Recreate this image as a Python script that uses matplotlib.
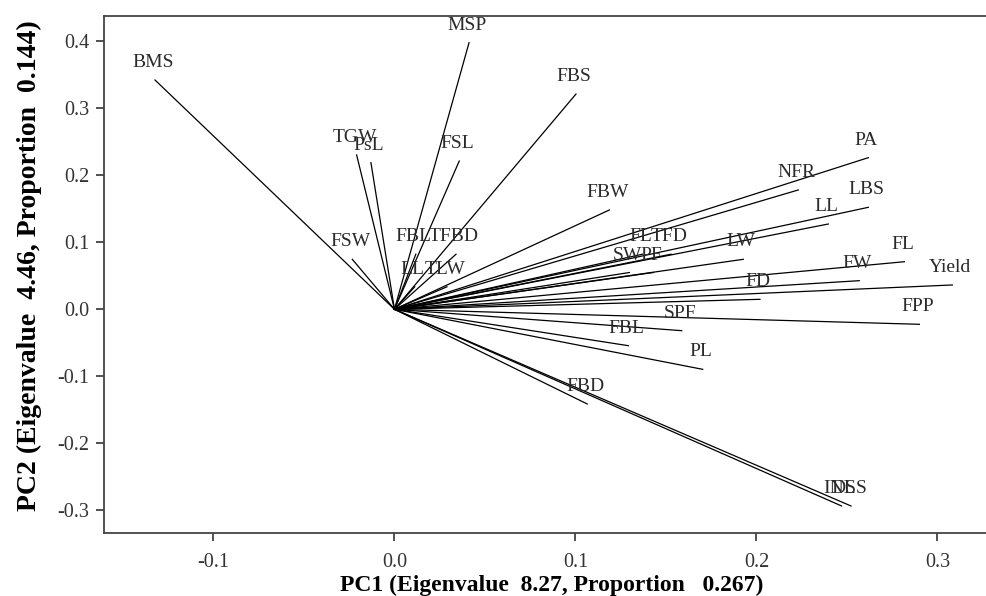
import matplotlib
matplotlib.use("Agg")
import matplotlib.pyplot as plt

# loading plot data (PC1, PC2 loadings)
names = ['BMS', 'MSP', 'FBS', 'TGW', 'PsL', 'FSL', 'FSW',
         'FBL', 'TFBD', 'LL', 'TLW', 'FBW', 'FL', 'TFD', 'SW', 'PF',
         'PA', 'NFR', 'LBS', 'LL', 'LW', 'FL', 'FW', 'Yield', 'FD', 'FPP',
         'SPF', 'FBL', 'PL', 'FBD', 'INL', 'DSS']
pc1 = [-0.1323, 0.0412, 0.1003, -0.0209, -0.0130, 0.0358, -0.0233,
       0.0118, 0.0340, 0.0112, 0.0290, 0.1187, 0.1370, 0.1528, 0.1298, 0.1430,
       0.2618, 0.2231, 0.2618, 0.2397, 0.1927, 0.2817, 0.2568, 0.3082, 0.2019, 0.2900,
       0.1587, 0.1292, 0.1703, 0.1065, 0.2470, 0.2522]
pc2 = [0.3422, 0.3979, 0.3213, 0.2303, 0.2188, 0.2213, 0.0746,
       0.0822, 0.0822, 0.0336, 0.0336, 0.1482, 0.0822, 0.0822, 0.0549, 0.0549,
       0.2263, 0.1781, 0.1522, 0.1273, 0.0746, 0.0710, 0.0427, 0.0363, 0.0149, -0.0224,
       -0.0319, -0.0543, -0.0896, -0.1413, -0.2935, -0.2935]

xticks = [-0.1, 0.0, 0.1, 0.2, 0.3]
yticks = [-0.3, -0.2, -0.1, 0.0, 0.1, 0.2, 0.3, 0.4]

plt.rcParams['font.family'] = ['Liberation Serif', 'DejaVu Serif']
plt.rcParams['axes.unicode_minus'] = False

fig = plt.figure(figsize=(9.86, 5.96), dpi=100)
ax = fig.add_axes([0.1058, 0.1052, 0.8962, 0.8685])

for n, x, y in zip(names, pc1, pc2):
    ax.plot([0, x], [0, y], color='black', lw=0.9)
    ax.annotate(n, (x, y), xytext=(-2, 17.5), textcoords='offset pixels',
                ha='center', va='center', fontsize=14, color='#2a2a2a')

ax.set_xlim(-0.1603, 0.3279)
ax.set_ylim(-0.3343, 0.4382)
ax.set_xticks(xticks)
ax.set_yticks(yticks)
ax.set_xticklabels(['%.1f' % v for v in xticks])
ax.set_yticklabels(['%.1f' % v for v in yticks])
ax.tick_params(direction='out', length=6, width=1.2, labelsize=14.5,
               colors='#333333', pad=5)
ax.tick_params(axis='x', pad=8)

for s in ['left', 'bottom', 'top']:
    ax.spines[s].set_linewidth(1.3)
    ax.spines[s].set_color('#444444')
ax.spines['right'].set_visible(False)

ax.set_xlabel('PC1 (Eigenvalue  8.27, Proportion   0.267)', fontsize=17,
              fontweight='bold')
ax.set_ylabel('PC2 (Eigenvalue  4.46, Proportion  0.144)', fontsize=20,
              fontweight='bold')
ax.xaxis.set_label_coords(0.5066, -0.080)
ax.yaxis.set_label_coords(-0.071, 0.517)

fig.savefig('out.png', dpi=100)
